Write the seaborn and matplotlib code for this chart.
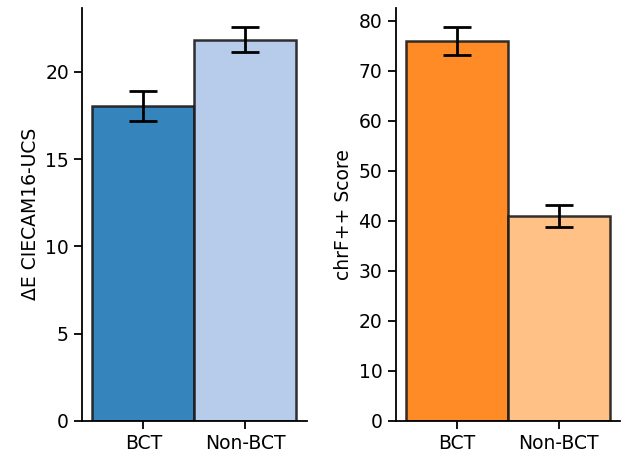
import matplotlib
matplotlib.use("Agg")
import matplotlib.pyplot as plt
import seaborn as sns
import pandas as pd

categories = ["BCT", "Non-BCT"]
delta_e = [18.05, 21.85]
delta_e_low = [17.2, 21.15]
delta_e_high = [18.9, 22.55]
chrf = [76.0, 41.0]
chrf_low = [73.2, 38.8]
chrf_high = [78.7, 43.1]
blue_colors = ["#1f77b4", "#aec7e8"]
orange_colors = ["#ff7f0e", "#ffbb78"]

plt.rcParams["font.family"] = ["DejaVu Sans"]

fig, axes = plt.subplots(1, 2, figsize=(6.22, 4.58), dpi=100)
fig.subplots_adjust(left=0.132, right=0.997, bottom=0.081, top=0.983, wspace=0.396)

panels = [
    (axes[0], delta_e, delta_e_low, delta_e_high, blue_colors, "ΔE CIECAM16-UCS", [0, 5, 10, 15, 20]),
    (axes[1], chrf, chrf_low, chrf_high, orange_colors, "chrF++ Score", [0, 10, 20, 30, 40, 50, 60, 70, 80]),
]

for ax, vals, lo, hi, cols, ylabel, yticks in panels:
    df = pd.DataFrame({"cat": categories, "val": vals})
    sns.barplot(data=df, x="cat", y="val", hue="cat", palette=cols, width=1.0,
                saturation=1, errorbar=None, legend=False, alpha=0.9,
                edgecolor="#1a1a1a", linewidth=1.8, ax=ax)
    yerr = [[v - l for v, l in zip(vals, lo)], [h - v for v, h in zip(vals, hi)]]
    ax.errorbar(range(len(categories)), vals, yerr=yerr, fmt="none", ecolor="black",
                elinewidth=2, capsize=10, capthick=2, zorder=5)
    ax.set_xlim(-0.6, 1.6)
    ax.set_ylim(0, max(hi) * 1.05)
    ax.set_yticks(yticks)
    ax.set_xlabel("")
    ax.set_ylabel(ylabel, fontsize=13.5, color="black")
    ax.tick_params(axis="both", labelsize=13.5, length=6, width=1.3, colors="black")
    for s in ["left", "bottom"]:
        ax.spines[s].set_linewidth(1.3)
        ax.spines[s].set_color("black")
    sns.despine(ax=ax)

fig.savefig("out.png", dpi=100)
